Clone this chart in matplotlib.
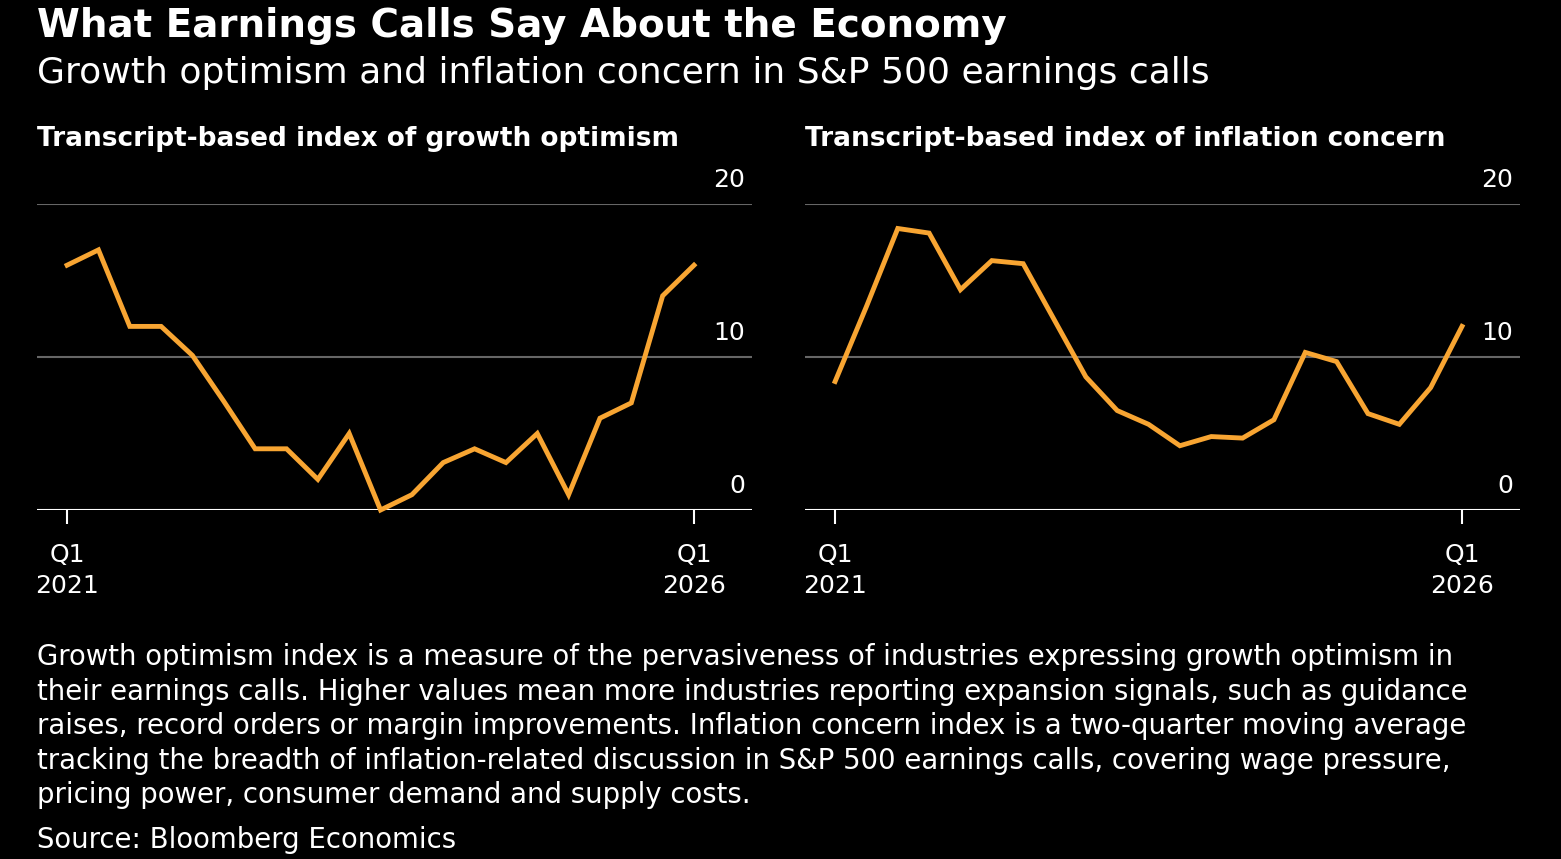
import matplotlib
matplotlib.use("Agg")
import matplotlib.pyplot as plt
import matplotlib.transforms as mtransforms

# quarterly data, Q1 2021 .. Q1 2026
quarters = list(range(21))
growth = [16.0, 17.0, 12.0, 12.0, 10.1, 7.1, 4.0, 4.0, 2.0, 5.0, 0.0,
          1.0, 3.1, 4.0, 3.1, 5.0, 1.0, 6.0, 7.0, 14.0, 16.0]
inflation = [8.4, 13.3, 18.4, 18.1, 14.4, 16.3, 16.1, 12.4, 8.7, 6.5, 5.6,
             4.2, 4.8, 4.7, 5.9, 10.3, 9.7, 6.3, 5.6, 8.0, 12.0]
panel_titles = ["Transcript-based index of growth optimism",
                "Transcript-based index of inflation concern"]
yticks = [0, 10, 20]
xtick_pos = [0, 20]
xtick_labels = ["Q1\n2021", "Q1\n2026"]

W, H = 1561, 859
fig = plt.figure(figsize=(W / 100, H / 100), dpi=100, facecolor="black")
plt.rcParams['font.family'] = ['DejaVu Sans']

fig.text(37 / W, 1 - 26 / H, "What Earnings Calls Say About the Economy",
         color="white", fontsize=28, fontweight="bold", va="center")
fig.text(37 / W, 1 - 73 / H, "Growth optimism and inflation concern in S&P 500 earnings calls",
         color="white", fontsize=26, va="center")

orange = "#f8a532"
for i, (series, title) in enumerate(zip([growth, inflation], panel_titles)):
    left = [37, 805][i]
    ax = fig.add_axes([left / W, (H - 510) / H, 715 / W, 306 / H])
    ax.set_facecolor("black")
    ax.set_xlim(-0.96, 21.85)
    ax.set_ylim(0, 20)
    for y in yticks[1:]:
        ax.axhline(y, color="#666666", lw=1.5, zorder=1)
    ax.axhline(0, color="white", lw=1.5, zorder=1)
    ax.plot(quarters, series, color=orange, lw=3.5, zorder=3, clip_on=False,
            solid_joinstyle="miter")
    for s in ax.spines.values():
        s.set_visible(False)
    ax.set_yticks([])
    ax.set_xticks(xtick_pos)
    ax.set_xticklabels(xtick_labels, color="white", fontsize=18, linespacing=1.35)
    ax.tick_params(axis="x", colors="white", length=10, width=1.5, pad=14)
    trans = mtransforms.blended_transform_factory(ax.transAxes, ax.transData)
    for y in yticks:
        ax.text(0.99, y + 1.6, str(y), transform=trans, ha="right", va="center",
                color="white", fontsize=18)
    fig.text(left / W, 1 - 139 / H, title, color="white", fontsize=19,
             fontweight="bold", va="center")

note = ("Growth optimism index is a measure of the pervasiveness of industries expressing growth optimism in\n"
        "their earnings calls. Higher values mean more industries reporting expansion signals, such as guidance\n"
        "raises, record orders or margin improvements. Inflation concern index is a two-quarter moving average\n"
        "tracking the breadth of inflation-related discussion in S&P 500 earnings calls, covering wage pressure,\n"
        "pricing power, consumer demand and supply costs.")
fig.text(37 / W, 1 - 643 / H, note, color="white", fontsize=19.8, va="top", linespacing=1.3)
fig.text(37 / W, 1 - 840 / H, "Source: Bloomberg Economics", color="white", fontsize=19.8, va="center")

fig.savefig("out.png", dpi=100, facecolor="black")
